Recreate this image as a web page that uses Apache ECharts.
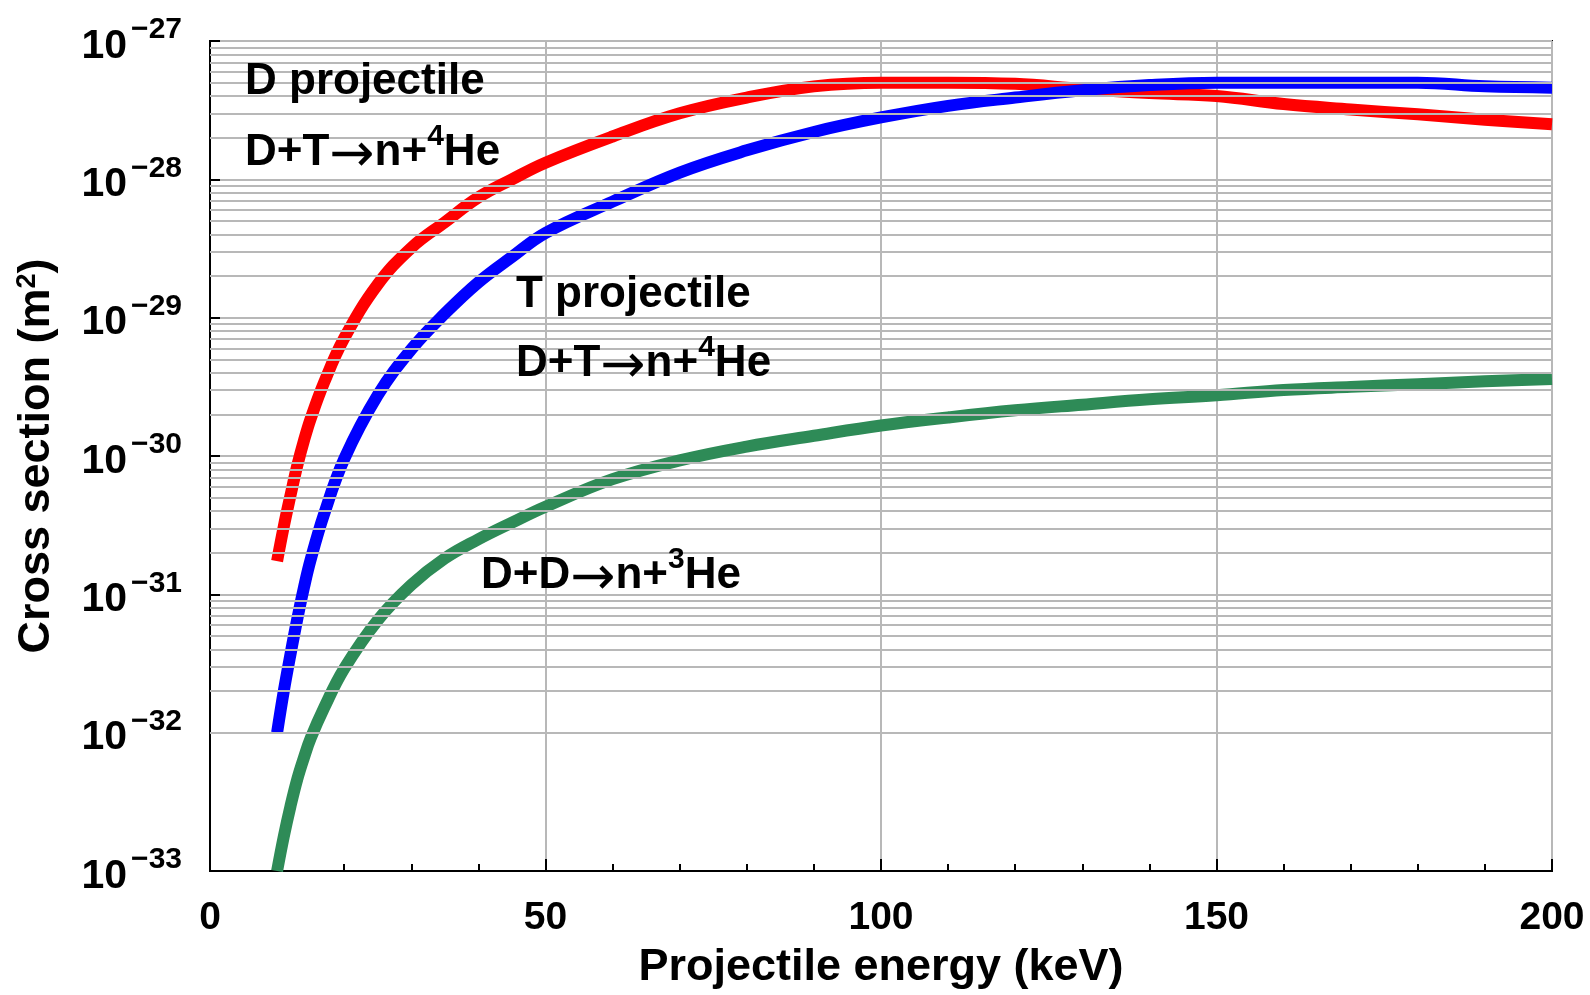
<!DOCTYPE html>
<html>
<head>
<meta charset="utf-8">
<title>Cross section vs projectile energy</title>
<script src="https://cdn.jsdelivr.net/npm/echarts@6/dist/echarts.min.js"></script>
<style>
  html, body { margin: 0; padding: 0; background: #fff; }
  #main { width: 1590px; height: 995px; }
</style>
</head>
<body>
<div id="main"></div>
<script>
// energies (keV)
var energy = [10, 11, 12, 13, 14, 15, 17, 20, 25, 30, 35, 40, 45, 50, 60, 70, 80, 90,
              100, 110, 120, 130, 140, 150, 160, 170, 180, 190, 200];

// D projectile, D+T -> n + 4He  (m^2)
var dProjDT = [1.74e-31, 3.1e-31, 5.2e-31, 8.5e-31, 1.29e-30, 1.86e-30, 3.4e-30, 7.1e-30,
               1.74e-29, 3.2e-29, 4.9e-29, 7.4e-29, 1.0e-28, 1.32e-28, 2.04e-28, 3.0e-28,
               3.9e-28, 4.7e-28, 5.0e-28, 5.0e-28, 4.9e-28, 4.5e-28, 4.2e-28, 4.0e-28,
               3.5e-28, 3.2e-28, 2.95e-28, 2.7e-28, 2.5e-28];

// T projectile, D+T -> n + 4He
var tProjDT = [1.0e-32, 2.0e-32, 3.7e-32, 6.6e-32, 1.12e-31, 1.78e-31, 3.8e-31, 9.5e-31,
               2.75e-30, 5.9e-30, 1.07e-29, 1.8e-29, 2.75e-29, 4.1e-29, 6.9e-29, 1.12e-28,
               1.62e-28, 2.2e-28, 2.8e-28, 3.4e-28, 3.9e-28, 4.4e-28, 4.8e-28, 5.0e-28,
               5.0e-28, 5.0e-28, 5.0e-28, 4.7e-28, 4.6e-28];

// D+D -> n + 3He
var ddN3He = [1.0e-33, 1.78e-33, 2.95e-33, 4.6e-33, 6.6e-33, 9.1e-33, 1.51e-32, 2.9e-32,
              6.5e-32, 1.17e-31, 1.82e-31, 2.5e-31, 3.3e-31, 4.3e-31, 6.8e-31, 9.3e-31,
              1.17e-30, 1.4e-30, 1.66e-30, 1.9e-30, 2.14e-30, 2.35e-30, 2.57e-30, 2.75e-30,
              3.0e-30, 3.16e-30, 3.3e-30, 3.47e-30, 3.6e-30];

var yDecades = [-33, -32, -31, -30, -29, -28, -27];
var xTicks = [0, 50, 100, 150, 200];

// echarts rounds axis values to 20 decimals, so plot in units of 1e-30 m^2
var UNIT_EXP = -30;
function toUnit(v) { return v / Math.pow(10, UNIT_EXP); }

function pairs(ys) {
  return energy.map(function (e, i) { return [e, toUnit(ys[i])]; });
}

// minor log gridlines 2..9 x 10^n
var minorLines = [];
for (var n = yDecades[0]; n < yDecades[yDecades.length - 1]; n++) {
  for (var k = 2; k <= 9; k++) {
    minorLines.push({ yAxis: k * Math.pow(10, n - UNIT_EXP) });
  }
}

var FONT = '"Liberation Sans", Arial, sans-serif';
var gridGray = '#b8b8b8';

var myChart = echarts.init(document.getElementById('main'));

// text fragments are lifted a bit so the arrow sits at mid-letter height
var richNote = {
  m: { fontSize: 44, fontWeight: 'bold', fontFamily: FONT, color: '#000',
       verticalAlign: 'bottom', padding: [0, 0, 9, 0] },
  a: { fontSize: 54, fontFamily: '"DejaVu Sans"', color: '#000', verticalAlign: 'bottom' },
  s: { fontSize: 30, fontWeight: 'bold', fontFamily: FONT, color: '#000',
       verticalAlign: 'bottom', padding: [0, 0, 32, 0] }
};

function note(x, y, str) {
  return {
    type: 'text', left: x, top: y, z: 10,
    style: {
      text: str,
      fontSize: 44, fontWeight: 'bold', fontFamily: FONT, fill: '#000',
      rich: richNote
    }
  };
}

var option = {
  backgroundColor: '#fff',
  animation: false,
  grid: {
    left: 210, right: 38, top: 41, bottom: 124,
    show: true, borderColor: '#000', borderWidth: 2, backgroundColor: '#fff'
  },
  xAxis: {
    type: 'value',
    min: xTicks[0], max: xTicks[xTicks.length - 1], interval: 50,
    name: 'Projectile energy (keV)',
    nameLocation: 'middle', nameGap: 74,
    nameTextStyle: { fontSize: 45, fontWeight: 'bold', fontFamily: FONT, color: '#000' },
    axisLine: { lineStyle: { color: '#000', width: 2 } },
    axisTick: { inside: true, length: 12, lineStyle: { color: '#000', width: 2 } },
    minorTick: { show: true, splitNumber: 5, length: 7, lineStyle: { color: '#000', width: 2 } },
    axisLabel: { margin: 28, fontSize: 39, fontWeight: 'bold', fontFamily: FONT, color: '#000' },
    splitLine: { show: true, lineStyle: { color: gridGray, width: 2 } }
  },
  yAxis: {
    type: 'log', logBase: 10,
    min: toUnit(Math.pow(10, yDecades[0])), max: toUnit(Math.pow(10, yDecades[yDecades.length - 1])),
    splitNumber: 6,
    name: 'Cross section (m{s|2})',
    nameLocation: 'middle', nameGap: 150, nameRotate: 90,
    nameTextStyle: {
      fontSize: 45, fontWeight: 'bold', fontFamily: FONT, color: '#000',
      rich: { s: { fontSize: 27, fontWeight: 'bold', fontFamily: FONT, color: '#000',
                   verticalAlign: 'bottom', padding: [0, 0, 19, 0] } }
    },
    axisLine: { lineStyle: { color: '#000', width: 2 } },
    axisTick: { inside: true, length: 10, lineStyle: { color: '#000', width: 2 } },
    axisLabel: {
      margin: 28,
      formatter: function (v) {
        var p = Math.round(Math.log10(v)) + UNIT_EXP;
        return '{b|10}{s|\u2212' + (-p) + '}';
      },
      rich: {
        b: { fontSize: 41, fontWeight: 'bold', fontFamily: FONT, color: '#000',
             verticalAlign: 'bottom', padding: [0, 4, 0, 0] },
        s: { fontSize: 30, fontWeight: 'bold', fontFamily: FONT, color: '#000',
             verticalAlign: 'bottom', padding: [0, 0, 22, 0] }
      }
    },
    splitLine: { show: true, lineStyle: { color: gridGray, width: 2 } }
  },
  graphic: [
    note(245, 60, 'D projectile'),
    note(245, 122, '{m|D+T}{a|\u2192}{m|n+}{s|4}{m|He}'),
    note(516, 273, 'T projectile'),
    note(516, 333, '{m|D+T}{a|\u2192}{m|n+}{s|4}{m|He}'),
    note(481, 545, '{m|D+D}{a|\u2192}{m|n+}{s|3}{m|He}')
  ],
  series: [
    {
      // minor log gridlines
      type: 'line', data: [], z: 1, silent: true,
      markLine: {
        silent: true, symbol: 'none', label: { show: false },
        lineStyle: { color: gridGray, width: 2, type: 'solid' },
        data: minorLines
      }
    },
    {
      name: 'D projectile D+T', type: 'line', data: pairs(dProjDT), z: 3,
      smooth: 0.4, showSymbol: false,
      lineStyle: { color: '#ff0000', width: 12, cap: 'butt', join: 'round' }
    },
    {
      name: 'T projectile D+T', type: 'line', data: pairs(tProjDT), z: 4,
      smooth: 0.4, showSymbol: false,
      lineStyle: { color: '#0000ff', width: 12, cap: 'butt', join: 'round' }
    },
    {
      name: 'D+D', type: 'line', data: pairs(ddN3He), z: 3,
      smooth: 0.4, showSymbol: false,
      lineStyle: { color: '#2e8b57', width: 12, cap: 'butt', join: 'round' }
    }
  ]
};

myChart.setOption(option);
</script>
</body>
</html>
